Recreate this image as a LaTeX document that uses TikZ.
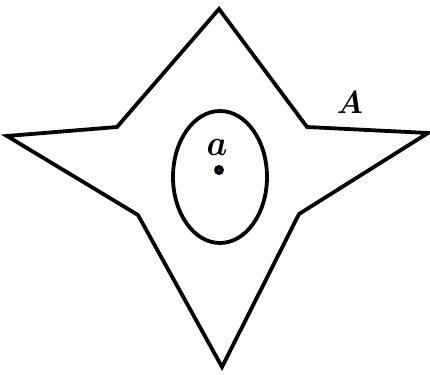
\documentclass[tikz,border=0pt]{standalone}
\usepackage{bm}
\usepackage{graphicx}
\begin{document}
\begin{tikzpicture}[x=1pt,y=-1pt,
  shape line/.style={line width=3.8pt, line join=miter},
  lbl/.style={inner sep=0pt}]
\useasboundingbox (0,0) rectangle (430,374);
\coordinate (top) at (219,9);
\coordinate (ur) at (307,127);
\coordinate (right) at (428,133);
\coordinate (lr) at (299,214);
\coordinate (bottom) at (222,367);
\coordinate (ll) at (138,215);
\coordinate (left) at (7,136);
\coordinate (ul) at (117,127);
\draw[shape line] (top) -- (ur) -- (right) -- (lr) -- (bottom) -- (ll) -- (left) -- (ul) -- cycle;
\draw[shape line] (220,177) ellipse [x radius=47, y radius=66];
\node[circle, fill=black, inner sep=0pt, minimum size=10pt] (dot) at (219,170) {};
\node[circle, fill=blue!60, inner sep=0pt, minimum size=1.8pt] (dotc) at (219,170) {};
\node[lbl] (la) at (217,147) {\scalebox{3.3}[3.6]{$\bm{a}$}};
\node[lbl] (lA) at (350,103) {\scalebox{3.0}[3.2]{$\bm{A}$}};
\end{tikzpicture}
\end{document}
